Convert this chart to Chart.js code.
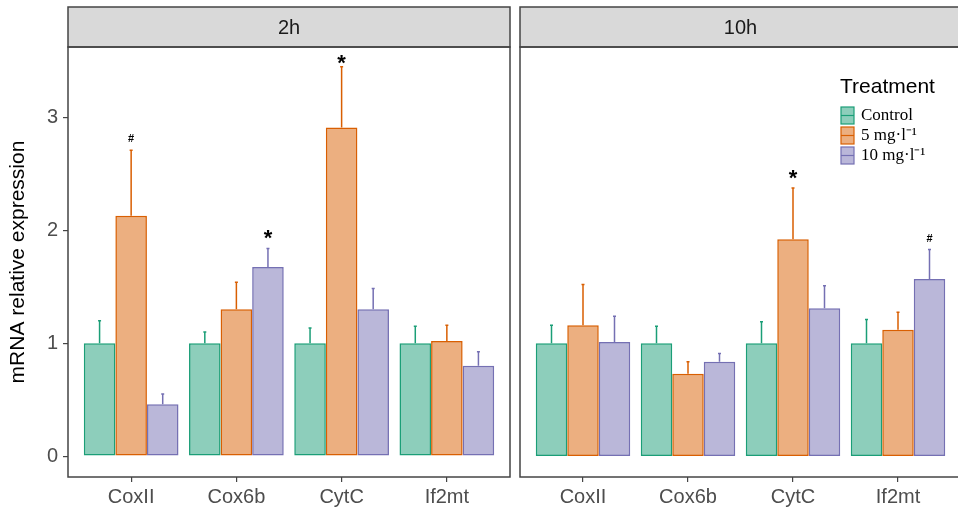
<!DOCTYPE html>
<html>
<head>
<meta charset="utf-8">
<script src="https://cdn.jsdelivr.net/npm/chart.js@4.4.1/dist/chart.umd.min.js"></script>
<style>
  html, body { margin: 0; padding: 0; background: #fff; overflow: hidden; }
  #wrap { position: relative; width: 958px; height: 513px; overflow: hidden; }
  canvas { position: absolute; top: 0; }
  #left { left: 0; }
  #right { left: 515px; }
</style>
</head>
<body>
<div id="wrap">
  <canvas id="left" width="515" height="513"></canvas>
  <canvas id="right" width="450" height="513"></canvas>
</div>
<script>
// categories and series
const genes = ["CoxII", "Cox6b", "CytC", "If2mt"];
const treatments = ["Control", "5 mg·l⁻¹", "10 mg·l⁻¹"];

// 2h panel
const control2h = [1, 1, 1, 1];
const controlErr2h = [0.20, 0.10, 0.135, 0.15];
const mg5_2h = [2.13, 1.30, 2.91, 1.02];
const mg5Err2h = [0.58, 0.24, 0.54, 0.14];
const mg10_2h = [0.46, 1.675, 1.30, 0.80];
const mg10Err2h = [0.09, 0.165, 0.185, 0.125];
const sig2h = [["", "", "", ""], ["#", "", "*", ""], ["", "*", "", ""]];

// 10h panel
const control10h = [1, 1, 1, 1];
const controlErr10h = [0.16, 0.15, 0.19, 0.21];
const mg5_10h = [1.16, 0.73, 1.92, 1.12];
const mg5Err10h = [0.36, 0.105, 0.455, 0.155];
const mg10_10h = [1.01, 0.835, 1.31, 1.57];
const mg10Err10h = [0.23, 0.075, 0.20, 0.26];
const sig10h = [["", "", "", ""], ["", "", "*", ""], ["", "", "", "#"]];

const yTicks = [0, 1, 2, 3];

const lineColors = ["#1b9e77", "#d95f02", "#7570b3"];
const fillColors = ["rgba(27,158,119,0.5)", "rgba(217,95,2,0.5)", "rgba(117,112,179,0.5)"];

// strip on top + frame around the panel
const panelPlugin = {
    id: "panel",
    afterDraw(chart) {
        const c = chart.ctx;
        const a = chart.chartArea;
        c.save();
        c.fillStyle = "#d9d9d9";
        c.fillRect(a.left, 7, a.right - a.left, 40);
        c.strokeStyle = "#444";
        c.lineWidth = 1.5;
        c.strokeRect(a.left, 7, a.right - a.left, 40);
        c.strokeRect(a.left, a.top, a.right - a.left, a.bottom - a.top);
        c.fillStyle = "#1a1a1a";
        c.font = "20px Arial, 'Liberation Sans', sans-serif";
        c.textAlign = "center";
        c.textBaseline = "middle";
        c.fillText(chart.options.plugins.panel.title, (a.left + a.right) / 2, 28);
        c.restore();
    }
};

// upper error bars and significance marks
const errorPlugin = {
    id: "errbars",
    afterDatasetsDraw(chart) {
        const c = chart.ctx;
        const y = chart.scales.y;
        c.save();
        chart.data.datasets.forEach((ds, i) => {
            const meta = chart.getDatasetMeta(i);
            meta.data.forEach((bar, j) => {
                const top = y.getPixelForValue(ds.data[j].y + ds.errors[j]);
                c.strokeStyle = ds.borderColor;
                c.lineWidth = 1.5;
                c.beginPath();
                c.moveTo(bar.x, bar.y);
                c.lineTo(bar.x, top);
                c.moveTo(bar.x - 1.5, top);
                c.lineTo(bar.x + 1.5, top);
                c.stroke();
                const mark = ds.marks[j];
                if (mark) {
                    c.fillStyle = "#000";
                    c.textAlign = "center";
                    c.textBaseline = "alphabetic";
                    if (mark === "*") {
                        c.font = "bold 22px Arial, 'Liberation Sans', sans-serif";
                        c.fillText("*", bar.x, Math.max(top - 3, 70));
                    } else {
                        c.font = "bold 11px Arial, 'Liberation Sans', sans-serif";
                        c.fillText("#", bar.x, top - 8);
                    }
                }
            });
        });
        c.restore();
    }
};

// ggplot-like legend inside the right panel
const legendPlugin = {
    id: "treatLegend",
    afterDraw(chart) {
        if (!chart.options.plugins.treatLegend.show) return;
        const c = chart.ctx;
        const x0 = 840 - 515;
        c.save();
        c.fillStyle = "#000";
        c.font = "21px Arial, 'Liberation Sans', sans-serif";
        c.textAlign = "left";
        c.textBaseline = "middle";
        c.fillText("Treatment", x0, 87);
        chart.data.datasets.forEach((ds, i) => {
            const ky = 107 + i * 20;
            c.fillStyle = ds.backgroundColor;
            c.fillRect(x0 + 1, ky, 13, 17);
            c.strokeStyle = ds.borderColor;
            c.lineWidth = 1.2;
            c.strokeRect(x0 + 1, ky, 13, 17);
            c.beginPath();
            c.moveTo(x0 + 1, ky + 8.5);
            c.lineTo(x0 + 14, ky + 8.5);
            c.stroke();
            c.fillStyle = "#000";
            c.font = "17px 'Liberation Serif', 'Times New Roman', serif";
            c.fillText(ds.label, x0 + 21, ky + 9);
        });
        c.restore();
    }
};

function makePanel(id, title, values, errors, marks, showY, showLegend, pad) {
    const datasets = treatments.map((t, i) => ({
        label: t,
        data: values[i].map((v, k) => ({ x: k, y: v })),
        errors: errors[i],
        marks: marks[i],
        backgroundColor: fillColors[i],
        borderColor: lineColors[i],
        borderWidth: 1.5,
        borderSkipped: false,
        categoryPercentage: 0.9,
        barPercentage: 1.0
    }));

    return new Chart(document.getElementById(id), {
        type: "bar",
        data: { datasets: datasets },
        options: {
            responsive: false,
            animation: false,
            devicePixelRatio: 1,
            layout: { padding: pad },
            plugins: {
                legend: { display: false },
                tooltip: { enabled: false },
                panel: { title: title },
                treatLegend: { show: showLegend }
            },
            scales: {
                x: {
                    type: "linear",
                    offset: false,
                    min: -0.6,
                    max: 3.6,
                    afterBuildTicks: (s) => { s.ticks = genes.map((g, k) => ({ value: k })); },
                    afterFit: (s) => { s.height = 36; },
                    ticks: {
                        callback: (v) => genes[v],
                        color: "#4d4d4d",
                        font: { family: "Arial, 'Liberation Sans', sans-serif", size: 20 },
                        padding: 3,
                        maxRotation: 0,
                        autoSkip: false
                    },
                    grid: { offset: false, drawOnChartArea: false, tickLength: 5, color: "#444", lineWidth: 1.2 },
                    border: { display: false }
                },
                y: {
                    display: showY,
                    min: -0.185,
                    max: 3.624,
                    afterBuildTicks: (s) => { s.ticks = yTicks.map((v) => ({ value: v })); },
                    afterFit: (s) => { if (showY) s.width = 68; },
                    ticks: {
                        color: "#4d4d4d",
                        font: { family: "Arial, 'Liberation Sans', sans-serif", size: 20 },
                        padding: 5
                    },
                    grid: { drawOnChartArea: false, tickLength: 5, color: "#444", lineWidth: 1.2 },
                    border: { display: false },
                    title: {
                        display: true,
                        text: "mRNA relative expression",
                        color: "#000",
                        font: { family: "Arial, 'Liberation Sans', sans-serif", size: 21 },
                        padding: { top: 6, bottom: 0 }
                    }
                }
            }
        },
        plugins: [errorPlugin, panelPlugin, legendPlugin]
    });
}

makePanel("left", "2h",
    [control2h, mg5_2h, mg10_2h],
    [controlErr2h, mg5Err2h, mg10Err2h],
    sig2h, true, false,
    { top: 47, left: 0, right: 5, bottom: 0 });

makePanel("right", "10h",
    [control10h, mg5_10h, mg10_10h],
    [controlErr10h, mg5Err10h, mg10Err10h],
    sig10h, false, true,
    { top: 47, left: 5, right: 4, bottom: 0 });
</script>
</body>
</html>
